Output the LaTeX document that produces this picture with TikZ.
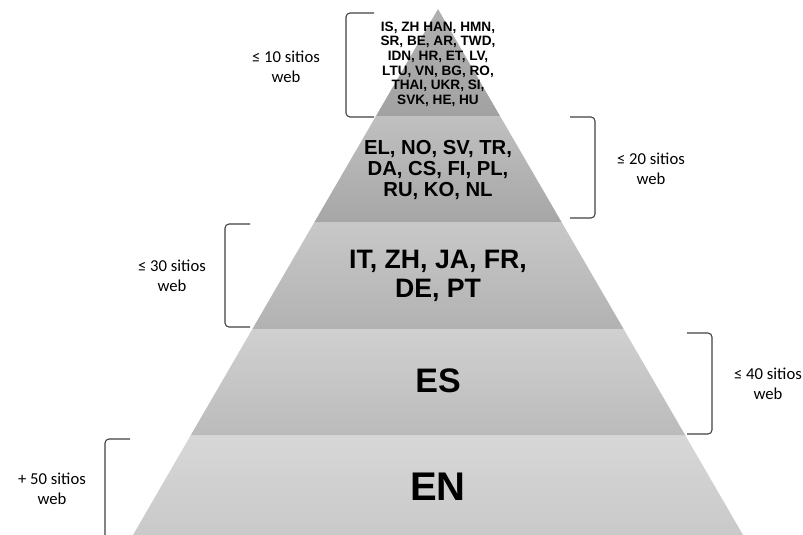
\documentclass[tikz,border=0pt]{standalone}
\usepackage{fontspec}
\setmainfont{Carlito}
\newfontfamily\pyrfont{Liberation Sans}
\definecolor{b1top}{HTML}{B0B0B0}
\definecolor{b1bot}{HTML}{A2A2A2}
\definecolor{b2top}{HTML}{C0C0C0}
\definecolor{b2bot}{HTML}{A6A6A6}
\definecolor{b3top}{HTML}{C8C8C8}
\definecolor{b3bot}{HTML}{B2B2B2}
\definecolor{b4top}{HTML}{D0D0D0}
\definecolor{b4bot}{HTML}{BBBBBB}
\definecolor{b5top}{HTML}{D7D7D7}
\definecolor{b5bot}{HTML}{C9C9C9}
\definecolor{brk}{HTML}{404040}
\begin{document}
\begin{tikzpicture}[x=0.75pt,y=-0.75pt,
  bracketline/.style={draw=brk,line width=0.8pt,rounded corners=3pt},
  pyrtext/.style={align=center,text=black,inner sep=0pt},
  sitelabel/.style={align=center,text=black,inner sep=0pt,font=\fontsize{12.5}{15}\selectfont}]
\useasboundingbox (0,0) rectangle (803,535);
% pyramid bands
\shade[top color=b1top,bottom color=b1bot] (438,9) -- (500.3,116.5) -- (375.7,116.5) -- cycle;
\shade[top color=b2top,bottom color=b2bot] (375.7,116.5) -- (500.3,116.5) -- (561.8,222.5) -- (314.2,222.5) -- cycle;
\shade[top color=b3top,bottom color=b3bot] (314.2,222.5) -- (561.8,222.5) -- (623.6,329) -- (252.4,329) -- cycle;
\shade[top color=b4top,bottom color=b4bot] (252.4,329) -- (623.6,329) -- (685.4,435.5) -- (190.6,435.5) -- cycle;
\shade[top color=b5top,bottom color=b5bot] (190.6,435.5) -- (685.4,435.5) -- (743,535) -- (133,535) -- cycle;
% pyramid texts
\node[pyrtext,font=\pyrfont\bfseries\fontsize{10.2}{11}\selectfont] (t1) at (438,64)
  {IS, ZH HAN, HMN,\\SR, BE, AR, TWD,\\IDN, HR, ET, LV,\\LTU, VN, BG, RO,\\THAI, UKR, SI,\\SVK, HE, HU};
\node[pyrtext,font=\pyrfont\bfseries\fontsize{15.2}{15.4}\selectfont] (t2) at (438,170)
  {EL, NO, SV, TR,\\DA, CS, FI, PL,\\RU, KO, NL};
\node[pyrtext,font=\pyrfont\bfseries\fontsize{20}{22}\selectfont] (t3) at (438,276)
  {IT, ZH, JA, FR,\\DE, PT};
\node[pyrtext,font=\pyrfont\bfseries\fontsize{25.5}{28}\selectfont] (t4) at (438,381) {ES};
\node[pyrtext,font=\pyrfont\bfseries\fontsize{30}{32}\selectfont] (t5) at (438,487) {EN};
% brackets
\draw[bracketline] (374,13) -- (346,13) -- (346,117) -- (374,117);
\draw[bracketline] (570,117) -- (595,117) -- (595,218) -- (570,218);
\draw[bracketline] (250,224) -- (225,224) -- (225,327) -- (250,327);
\draw[bracketline] (687,333) -- (712,333) -- (712,434) -- (687,434);
\draw[bracketline] (130,439) -- (105,439) -- (105,540);
% labels
\node[sitelabel] (l1) at (286,67) {≤ 10 sitios\\web};
\node[sitelabel] (l2) at (651,169) {≤ 20 sitios\\web};
\node[sitelabel] (l3) at (172,276) {≤ 30 sitios\\web};
\node[sitelabel] (l4) at (768,384) {≤ 40 sitios\\web};
\node[sitelabel] (l5) at (52,489) {+ 50 sitios\\web};
\end{tikzpicture}
\end{document}
